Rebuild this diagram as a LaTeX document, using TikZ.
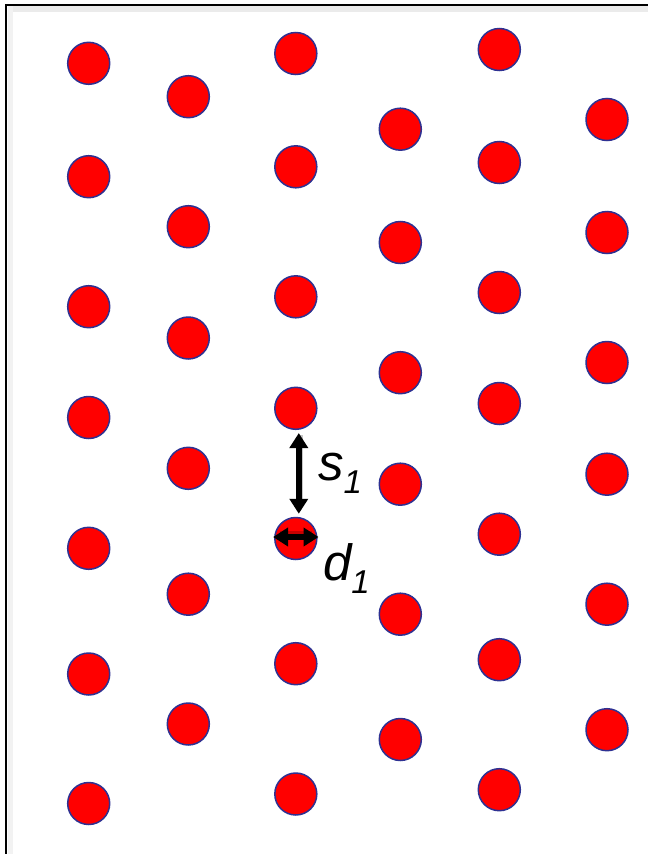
\documentclass[tikz,border=0pt]{standalone}
\usepackage{fontspec}
\setmainfont{Liberation Sans}
\usetikzlibrary{arrows.meta}
\definecolor{dotfill}{RGB}{255,0,0}
\definecolor{dotline}{RGB}{46,49,146}
\begin{document}
\begin{tikzpicture}[x=1pt,y=-1pt,
  dot/.style={circle,fill=dotfill,draw=dotline,line width=1.5pt,minimum size=42pt,inner sep=0pt},
  dimarrow/.style={line width=5.5pt,{Triangle[width=18pt,length=15pt]}-{Triangle[width=18pt,length=15pt]}},
  shadowarrow/.style={line width=5pt,black,opacity=0.22},
  lbl/.style={anchor=base west,inner sep=0pt,outer sep=0pt}]
\useasboundingbox (0,0) rectangle (648,854);
\fill[white] (0,0) rectangle (648,854);
% frame with faint shadow
\fill[black!8] (8,6) rectangle (648,12);
\fill[black!5] (8,6) rectangle (13,854);
\draw[line width=2.5pt,black] (6,854) -- (6,5) -- (648,5);
% column 1
\foreach \y [count=\i] in {63.3,176.7,306.7,417.5,548.3,674,803.5}
  \node[dot] (c1\i) at (88.7,\y) {};
% column 2
\foreach \y [count=\i] in {96.7,226.7,338,468.3,594.2,724}
  \node[dot] (c2\i) at (188.3,\y) {};
% column 3
\foreach \y [count=\i] in {53.5,166.8,296.8,408.3,538.5,663.7,794}
  \node[dot] (c3\i) at (295.8,\y) {};
% column 4
\foreach \y [count=\i] in {129.2,242.5,372.7,484.2,614.2,739.5}
  \node[dot] (c4\i) at (400.3,\y) {};
% column 5
\foreach \y [count=\i] in {49.5,162.5,292.5,403.5,534.2,659.7,789.7}
  \node[dot] (c5\i) at (499.3,\y) {};
% column 6
\foreach \y [count=\i] in {119.5,232.5,362.5,474.2,604.2,729.7}
  \node[dot] (c6\i) at (607,\y) {};
% s1 arrow
\draw[shadowarrow,shorten <=8pt,shorten >=8pt] ([xshift=5pt,yshift=3pt]c34.south) -- ([xshift=5pt,yshift=3pt]c35.north);
\draw[dimarrow,shorten <=3pt,shorten >=3pt] ([xshift=3pt]c34.south) -- ([xshift=3pt]c35.north);
% d1 arrow
\draw[shadowarrow,shorten <=6pt,shorten >=6pt] ([yshift=5pt]c35.west) -- ([yshift=5pt]c35.east);
\draw[dimarrow,shorten <=-1pt,shorten >=-1pt] ([yshift=1.5pt]c35.west) -- ([yshift=1.5pt]c35.east);
% labels
\node[lbl] (s1) at (318,480) {\fontsize{51}{60}\selectfont\itshape s\raisebox{-13pt}{\fontsize{33}{36}\selectfont 1}};
\node[lbl] (d1) at (323,580) {\fontsize{51}{60}\selectfont\itshape d\raisebox{-13pt}{\fontsize{33}{36}\selectfont 1}};
\end{tikzpicture}
\end{document}
